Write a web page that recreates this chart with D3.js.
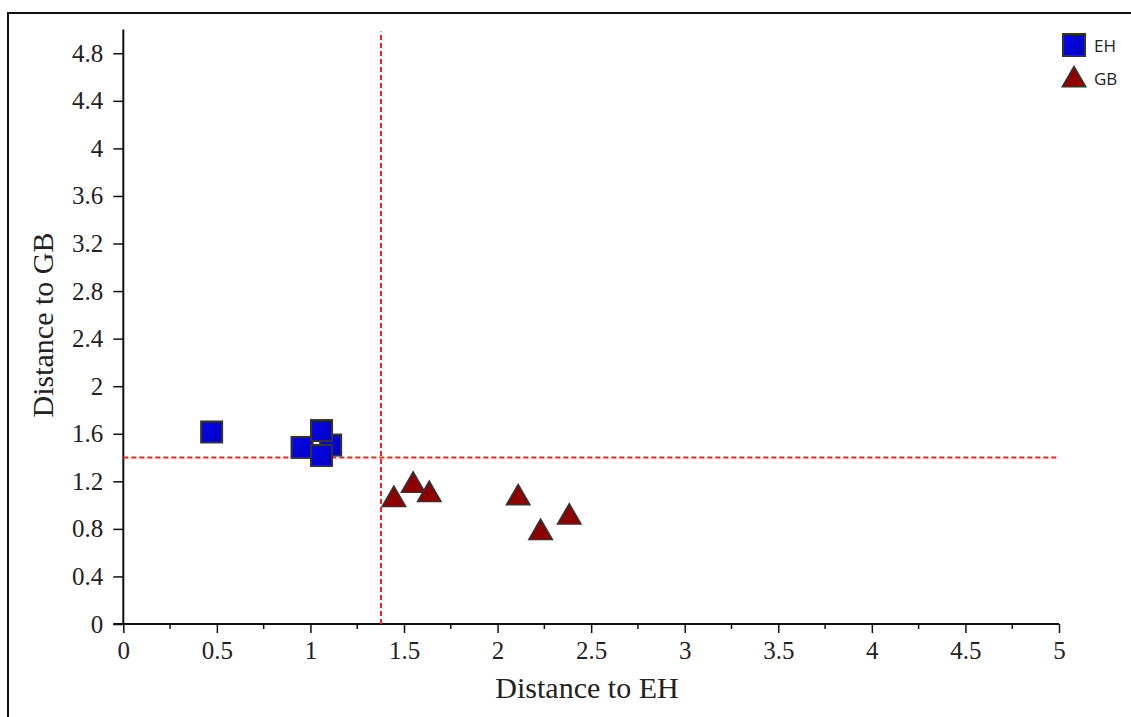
<!DOCTYPE html>
<html>
<head>
<meta charset="utf-8">
<script src="https://cdn.jsdelivr.net/npm/d3@7"></script>
<style>
  html, body { margin: 0; padding: 0; background: #fff; }
  svg { display: block; }
</style>
</head>
<body>
<svg id="chart" width="1131" height="717"></svg>
<script>
// Distance of each sample to the EH and GB group centres
const ehDistEH = [1.108, 0.472, 0.955, 1.059, 1.059];
const ehDistGB = [1.505, 1.615, 1.485, 1.627, 1.417];
const gbDistEH = [1.446, 1.549, 1.635, 2.110, 2.230, 2.383];
const gbDistGB = [1.071, 1.191, 1.113, 1.085, 0.793, 0.923];

// Classification thresholds
const thresholdEH = 1.377;
const thresholdGB = 1.40;

const xTicks = [0, 0.5, 1, 1.5, 2, 2.5, 3, 3.5, 4, 4.5, 5];
const xMinorTicks = [0.25, 0.75, 1.25, 1.75, 2.25, 2.75, 3.25, 3.75, 4.25, 4.75];
const yTicks = [0, 0.4, 0.8, 1.2, 1.6, 2, 2.4, 2.8, 3.2, 3.6, 4, 4.4, 4.8];

const seriesNames = ["EH", "GB"];

const svg = d3.select("#chart");

// Outer frame
svg.append("rect")
  .attr("x", 8).attr("y", 13)
  .attr("width", 1130).attr("height", 720)
  .attr("fill", "none").attr("stroke", "#111").attr("stroke-width", 2);

const x = d3.scaleLinear().domain([0, 5]).range([123.3, 1059]);
const y = d3.scaleLinear().domain([0, 5]).range([624, 29.5]);

const serif = "'Liberation Serif', 'Times New Roman', serif";

// X axis
const xAxis = svg.append("g").attr("transform", `translate(0,${y(0)})`)
  .call(d3.axisBottom(x).tickValues(xTicks).tickSize(9).tickPadding(8)
    .tickFormat(d => d3.format("")(d)));
xAxis.append("g").selectAll("line").data(xMinorTicks).join("line")
  .attr("x1", d => x(d)).attr("x2", d => x(d))
  .attr("y1", 0).attr("y2", 5).attr("stroke", "#111").attr("stroke-width", 1.5);

// Y axis
const yAxis = svg.append("g").attr("transform", `translate(${x(0)},0)`)
  .call(d3.axisLeft(y).tickValues(yTicks).tickSize(10).tickPadding(10)
    .tickFormat(d => d3.format("")(+d.toFixed(1))));

[xAxis, yAxis].forEach(g => {
  g.select(".domain").attr("stroke", "#111").attr("stroke-width", 2);
  g.selectAll(".tick line").attr("stroke", "#111").attr("stroke-width", 1.5);
  g.selectAll(".tick text")
    .attr("fill", "#222")
    .style("font-family", serif)
    .style("font-size", "25px");
});
// Extend x-axis line slightly left of the origin, as the y-axis ticks do
xAxis.select(".domain").attr("d", `M${x(0) - 10},0H${x(5)}`);
yAxis.select(".domain").attr("d", `M0,${y(0)}V${y(5)}`);

// Axis titles
svg.append("text")
  .attr("x", 587).attr("y", 698)
  .attr("text-anchor", "middle")
  .attr("fill", "#222")
  .style("font-family", serif).style("font-size", "30px")
  .text("Distance to EH");

svg.append("text")
  .attr("transform", `translate(53,325) rotate(-90)`)
  .attr("text-anchor", "middle")
  .attr("fill", "#222")
  .style("font-family", serif).style("font-size", "30px")
  .text("Distance to GB");

// Threshold lines
svg.append("line")
  .attr("x1", x(thresholdEH)).attr("x2", x(thresholdEH))
  .attr("y1", y(0)).attr("y2", y(5) + 2)
  .attr("stroke", "#ff2020").attr("stroke-width", 2)
  .attr("stroke-dasharray", "5,3");
svg.append("line")
  .attr("x1", x(0)).attr("x2", x(5))
  .attr("y1", y(thresholdGB)).attr("y2", y(thresholdGB))
  .attr("stroke", "#ff2020").attr("stroke-width", 2)
  .attr("stroke-dasharray", "5,3");

// Marker fills
const defs = svg.append("defs");
const blueGrad = defs.append("linearGradient").attr("id", "blueFill")
  .attr("x1", 0).attr("y1", 0).attr("x2", 1).attr("y2", 1);
blueGrad.append("stop").attr("offset", 0).attr("stop-color", "#0808ee");
blueGrad.append("stop").attr("offset", 1).attr("stop-color", "#0000c0");

const sqSize = 21;
const triSymbol = d3.symbol().type(d3.symbolTriangle).size(240);

// EH squares
const ehData = ehDistEH.map((d, i) => ({ dx: d, dy: ehDistGB[i] }));
svg.append("g").selectAll("rect").data(ehData).join("rect")
  .attr("x", d => x(d.dx) - sqSize / 2)
  .attr("y", d => y(d.dy) - sqSize / 2)
  .attr("width", sqSize).attr("height", sqSize)
  .attr("fill", "url(#blueFill)")
  .attr("stroke", "#333").attr("stroke-width", 2);

// GB triangles
const gbData = gbDistEH.map((d, i) => ({ dx: d, dy: gbDistGB[i] }));
svg.append("g").selectAll("path").data(gbData).join("path")
  .attr("d", triSymbol)
  .attr("transform", d => `translate(${x(d.dx)},${y(d.dy) + 3})`)
  .attr("fill", "#8e0000")
  .attr("stroke", "#333").attr("stroke-width", 1.5)
  .attr("stroke-linejoin", "miter");

// Legend
const legend = svg.append("g").attr("transform", "translate(1074,45)");
legend.append("rect")
  .attr("x", -11).attr("y", -11).attr("width", 22).attr("height", 22)
  .attr("fill", "url(#blueFill)").attr("stroke", "#333").attr("stroke-width", 2);
legend.append("path")
  .attr("d", triSymbol)
  .attr("transform", "translate(0,35)")
  .attr("fill", "#8e0000").attr("stroke", "#333").attr("stroke-width", 1.5);
legend.selectAll("text").data(seriesNames).join("text")
  .attr("x", 20).attr("y", (d, i) => i * 33 + 7)
  .attr("fill", "#222")
  .style("font-family", "'Open Sans', 'DejaVu Sans', sans-serif")
  .style("font-size", "17px")
  .text(d => d);
</script>
</body>
</html>
